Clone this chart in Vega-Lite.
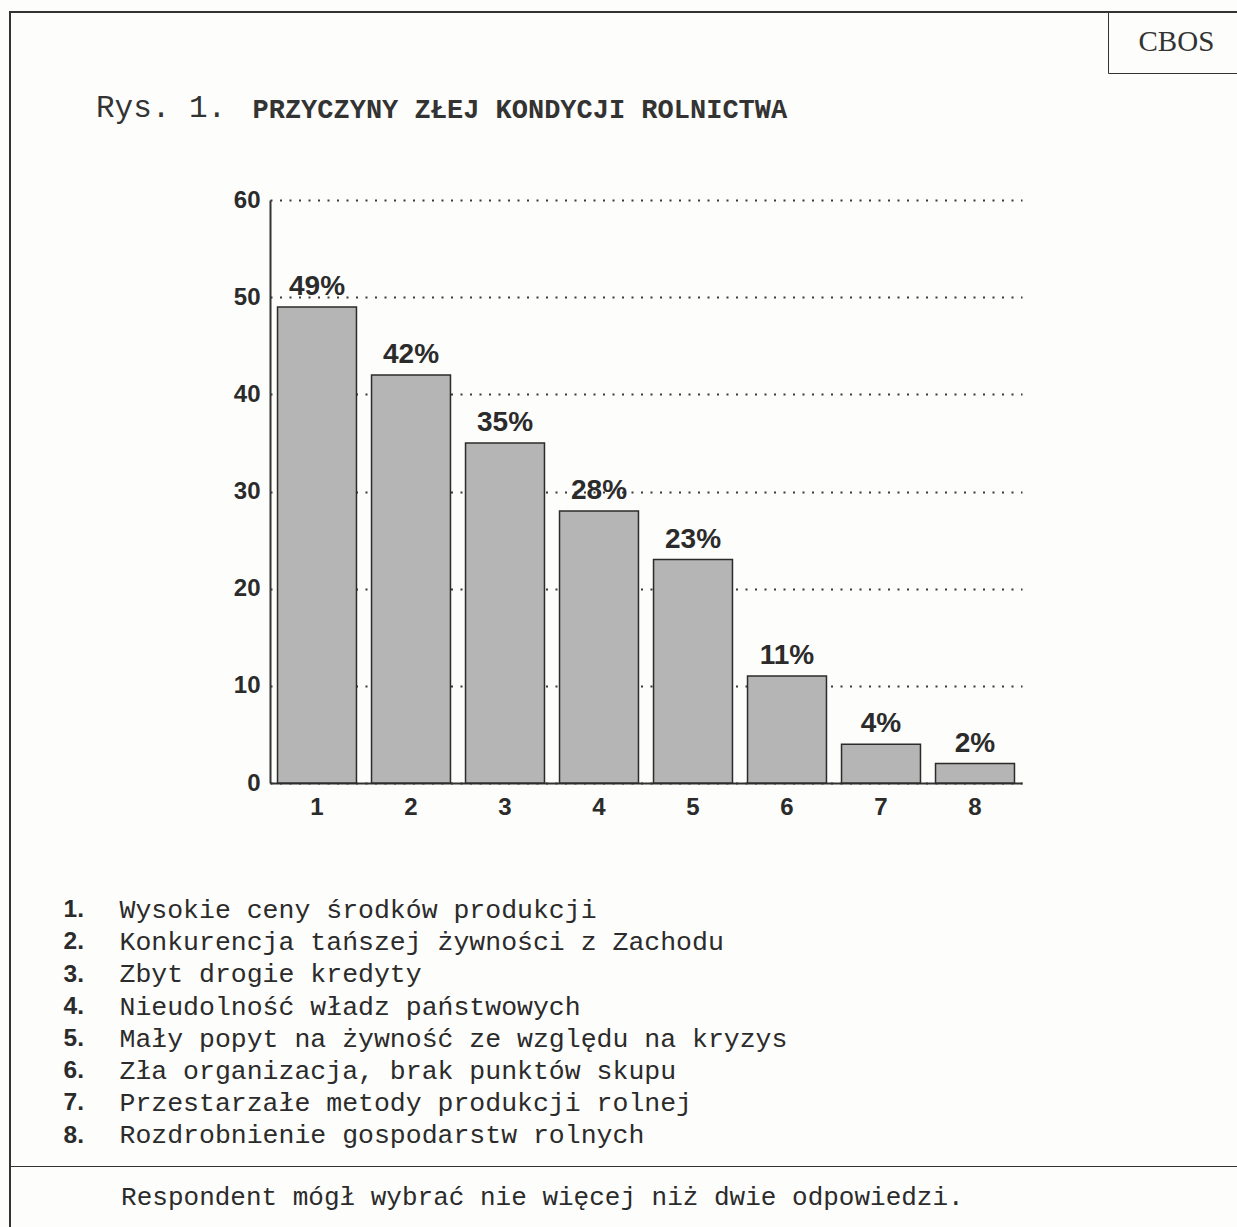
{
  "$schema": "https://vega.github.io/schema/vega-lite/v6.json",
  "width": 1227,
  "height": 1215,
  "autosize": {"type": "none"},
  "padding": {"left": 10, "top": 12, "right": 0, "bottom": 0},
  "background": "#fdfdfb",
  "config": {
    "view": {"stroke": "#333333", "strokeWidth": 2, "strokeDash": [1227, 2442, 1215]},
    "font": "Liberation Sans"
  },
  "title": {
    "text": "Rys. 1.",
    "orient": "top",
    "anchor": "start",
    "frame": "group",
    "dx": 86,
    "offset": -112,
    "font": "Liberation Mono",
    "fontSize": 31,
    "fontWeight": "normal",
    "color": "#333333"
  },
  "data": {
    "values": [
      {"nr": 1, "value": 49, "cause": "Wysokie ceny środków produkcji"},
      {"nr": 2, "value": 42, "cause": "Konkurencja tańszej żywności z Zachodu"},
      {"nr": 3, "value": 35, "cause": "Zbyt drogie kredyty"},
      {"nr": 4, "value": 28, "cause": "Nieudolność władz państwowych"},
      {"nr": 5, "value": 23, "cause": "Mały popyt na żywność ze względu na kryzys"},
      {"nr": 6, "value": 11, "cause": "Zła organizacja, brak punktów skupu"},
      {"nr": 7, "value": 4, "cause": "Przestarzałe metody produkcji rolnej"},
      {"nr": 8, "value": 2, "cause": "Rozdrobnienie gospodarstw rolnych"}
    ]
  },
  "layer": [
    {
      "mark": {"type": "bar", "strokeWidth": 1.5},
      "encoding": {
        "x": {
          "field": "nr",
          "type": "ordinal",
          "scale": {"type": "band", "range": [260, 1012], "paddingInner": 0.16, "paddingOuter": 0.08},
          "axis": {
            "offset": -444,
            "title": null,
            "ticks": false,
            "domainColor": "#333333",
            "domainWidth": 2,
            "labelAngle": 0,
            "labelFont": "Liberation Sans",
            "labelFontWeight": "bold",
            "labelFontSize": 24,
            "labelColor": "#2b2b2b",
            "labelPadding": 12
          }
        },
        "y": {
          "field": "value",
          "type": "quantitative",
          "scale": {"domain": [0, 60], "range": [771, 188], "nice": false},
          "axis": {
            "offset": -260,
            "title": "PRZYCZYNY ZŁEJ KONDYCJI ROLNICTWA",
            "titleAngle": 0,
            "titleAlign": "left",
            "titleBaseline": "alphabetic",
            "titleX": -18,
            "titleY": 105,
            "titleFont": "Liberation Mono",
            "titleFontSize": 27,
            "titleFontWeight": "bold",
            "titleColor": "#333333",
            "titleLimit": 1000,
            "values": [0, 10, 20, 30, 40, 50, 60],
            "grid": true,
            "gridDash": [2, 7.5],
            "gridColor": "#3a3a3a",
            "gridWidth": 2,
            "ticks": false,
            "domainColor": "#333333",
            "domainWidth": 2,
            "labelFont": "Liberation Sans",
            "labelFontWeight": "bold",
            "labelFontSize": 24,
            "labelColor": "#2b2b2b",
            "labelPadding": 10,
            "labelBound": false,
            "labelOverlap": false
          }
        },
        "fill": {
          "field": "nr",
          "type": "nominal",
          "scale": {"range": ["#b5b5b5"]},
          "legend": {
            "orient": "none",
            "legendX": 56,
            "legendY": 886,
            "direction": "vertical",
            "title": null,
            "labelExpr": "datum.label + '.'",
            "labelFont": "Liberation Sans",
            "labelFontWeight": "bold",
            "labelFontSize": 24.5,
            "labelColor": "#2b2b2b",
            "labelLimit": 200,
            "symbolOpacity": 0,
            "symbolSize": 0,
            "symbolStrokeWidth": 0,
            "labelOffset": -27,
            "padding": 0,
            "rowPadding": 7.2
          }
        },
        "stroke": {
          "field": "cause",
          "type": "nominal",
          "sort": {"field": "nr", "op": "min"},
          "scale": {"range": ["#2b2b2b"]},
          "legend": {
            "orient": "none",
            "legendX": 110,
            "legendY": 885,
            "direction": "vertical",
            "title": null,
            "labelFont": "Liberation Mono",
            "labelFontSize": 26.5,
            "labelColor": "#2b2b2b",
            "labelLimit": 2000,
            "symbolOpacity": 0,
            "symbolSize": 0,
            "symbolStrokeWidth": 0,
            "labelOffset": -27,
            "padding": 0,
            "rowPadding": 5.1
          }
        },
        "opacity": {
          "field": "value",
          "type": "quantitative",
          "scale": {"range": [1, 1]},
          "legend": {
            "orient": "none",
            "legendX": 1098,
            "legendY": 0,
            "values": [],
            "title": "\u2060\u00a0\u00a0CBOS\u00a0\u00a0\u2060",
            "titleFont": "Liberation Serif",
            "titleFontSize": 29,
            "titleFontWeight": "normal",
            "titleColor": "#333333",
            "titlePadding": 0,
            "titleLimit": 500,
            "padding": 16,
            "strokeColor": "#333333",
            "symbolOpacity": 0,
            "labelOpacity": 0,
            "encode": {"legend": {"update": {"strokeWidth": {"value": 2}}}}
          }
        }
      }
    },
    {
      "transform": [{"calculate": "datum.value + '%'", "as": "label"}],
      "mark": {
        "type": "text",
        "font": "Liberation Sans",
        "fontWeight": "bold",
        "fontSize": 28,
        "baseline": "alphabetic",
        "dy": -12,
        "color": "#2b2b2b"
      },
      "encoding": {
        "x": {"field": "nr", "type": "ordinal"},
        "y": {"field": "value", "type": "quantitative"},
        "text": {"field": "label"},
        "strokeWidth": {
          "field": "value",
          "type": "quantitative",
          "scale": {"range": [0, 0]},
          "legend": {
            "orient": "bottom-left",
            "offset": 0,
            "values": [],
            "title": "\u2060\u00a0\u00a0\u00a0\u00a0\u00a0\u00a0Respondent mógł wybrać nie więcej niż dwie odpowiedzi.\u00a0\u00a0\u00a0\u00a0\u00a0\u00a0\u00a0\u00a0\u00a0\u00a0\u00a0\u00a0\u00a0\u00a0\u00a0\u00a0\u00a0\u2060",
            "titleFont": "Liberation Mono",
            "titleFontSize": 26,
            "titleFontWeight": "normal",
            "titleColor": "#2b2b2b",
            "titlePadding": 0,
            "titleLimit": 3000,
            "padding": 17.5,
            "strokeColor": "#333333",
            "symbolOpacity": 0,
            "labelOpacity": 0,
            "encode": {"legend": {"update": {"strokeWidth": {"value": 2}}}}
          }
        }
      }
    }
  ]
}
